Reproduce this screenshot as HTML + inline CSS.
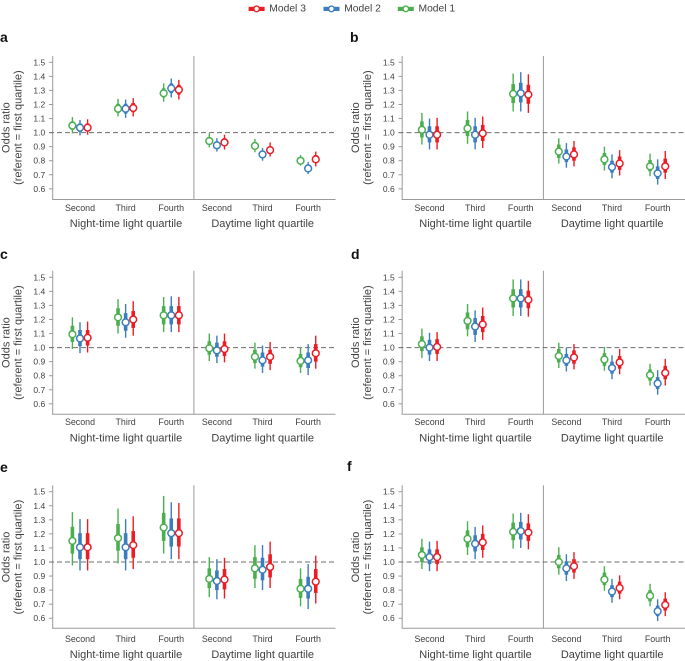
<!DOCTYPE html>
<html>
<head>
<meta charset="utf-8">
<style>
html,body{margin:0;padding:0;background:#fff;width:685px;height:661px;overflow:hidden}
svg{display:block}
text{font-family:"Liberation Sans",sans-serif;fill:#404040}
</style>
</head>
<body>
<svg id="chart" width="685" height="661" viewBox="0 0 685 661" xmlns="http://www.w3.org/2000/svg"></svg>
<script>
const modelNames = ["Model 1", "Model 2", "Model 3"];
const modelColors = ["#4bae4f", "#3b7dbd", "#ec1c24"];
const groupLabels = ["Second", "Third", "Fourth", "Second", "Third", "Fourth"];
const yTicks = [1.5, 1.4, 1.3, 1.2, 1.1, 1.0, 0.9, 0.8, 0.7, 0.6];

const aMean = [[1.05,1.17,1.28,.94,.905,.80],[1.035,1.17,1.315,.91,.845,.745],[1.035,1.175,1.305,.93,.875,.81]];
const aLow = [[.995,1.115,1.22,.895,.86,.765],[.98,1.105,1.25,.865,.80,.705],[.985,1.115,1.235,.88,.83,.76]];
const aHigh = [[1.11,1.24,1.35,.995,.955,.84],[1.09,1.235,1.385,.96,.89,.79],[1.095,1.245,1.375,.985,.93,.865]];
const aBandLow = [[1.02,1.14,1.25,.915,.88,.78],[1.005,1.135,1.28,.885,.82,.725],[1.01,1.145,1.27,.905,.85,.785]];
const aBandHigh = [[1.08,1.205,1.315,.965,.93,.82],[1.065,1.205,1.35,.935,.87,.77],[1.065,1.21,1.34,.96,.90,.84]];

const bMean = [[1.02,1.03,1.275,.865,.81,.76],[.985,.985,1.28,.83,.755,.71],[.985,.995,1.27,.845,.78,.76]];
const bLow = [[.915,.92,1.15,.78,.73,.69],[.88,.88,1.15,.75,.675,.63],[.88,.89,1.14,.76,.695,.67]];
const bHigh = [[1.14,1.15,1.42,.96,.90,.85],[1.10,1.105,1.43,.925,.845,.81],[1.105,1.115,1.415,.94,.875,.87]];
const bBandLow = [[.965,.975,1.21,.82,.77,.725],[.93,.93,1.215,.79,.715,.67],[.93,.94,1.205,.80,.735,.715]];
const bBandHigh = [[1.08,1.09,1.345,.915,.855,.805],[1.045,1.045,1.355,.88,.80,.76],[1.045,1.055,1.34,.895,.83,.815]];

const cMean = [[1.095,1.215,1.23,.995,.935,.905],[1.065,1.18,1.23,.98,.91,.91],[1.07,1.20,1.23,.99,.935,.96]];
const cLow = [[.99,1.10,1.11,.905,.85,.82],[.96,1.07,1.11,.89,.82,.805],[.965,1.085,1.11,.895,.84,.85]];
const cHigh = [[1.215,1.345,1.36,1.10,1.035,1.0],[1.18,1.31,1.365,1.085,1.015,1.025],[1.185,1.33,1.36,1.10,1.04,1.085]];
const cBandLow = [[1.04,1.155,1.165,.95,.89,.86],[1.01,1.12,1.165,.935,.865,.855],[1.015,1.14,1.165,.94,.885,.90]];
const cBandHigh = [[1.155,1.28,1.295,1.045,.985,.955],[1.125,1.245,1.295,1.035,.965,.965],[1.125,1.26,1.295,1.045,.985,1.025]];

const dMean = [[1.025,1.19,1.35,.94,.915,.805],[1.0,1.15,1.35,.91,.855,.745],[1.005,1.165,1.34,.93,.895,.82]];
const dLow = [[.925,1.08,1.225,.855,.835,.73],[.905,1.04,1.225,.83,.775,.665],[.905,1.055,1.22,.845,.81,.73]];
const dHigh = [[1.135,1.31,1.485,1.035,1.005,.885],[1.105,1.265,1.485,1.0,.945,.84],[1.11,1.285,1.475,1.025,.99,.92]];
const dBandLow = [[.975,1.13,1.285,.895,.87,.765],[.95,1.09,1.285,.87,.815,.705],[.955,1.11,1.28,.885,.85,.775]];
const dBandHigh = [[1.08,1.25,1.415,.99,.96,.845],[1.055,1.21,1.415,.955,.90,.79],[1.06,1.225,1.405,.98,.94,.87]];

const eMean = [[1.15,1.17,1.245,.88,.955,.81],[1.105,1.105,1.205,.865,.945,.81],[1.105,1.12,1.205,.875,.965,.86]];
const eLow = [[.975,.99,1.06,.75,.815,.685],[.94,.94,1.02,.735,.80,.665],[.94,.95,1.02,.74,.815,.705]];
const eHigh = [[1.355,1.38,1.47,1.035,1.12,.955],[1.305,1.305,1.425,1.02,1.12,.985],[1.305,1.325,1.42,1.03,1.145,1.045]];
const eBandLow = [[1.06,1.08,1.15,.815,.88,.745],[1.02,1.02,1.11,.80,.87,.74],[1.02,1.03,1.11,.805,.89,.78]];
const eBandHigh = [[1.25,1.27,1.35,.955,1.035,.88],[1.205,1.205,1.31,.94,1.03,.895],[1.205,1.22,1.31,.95,1.055,.95]];

const fMean = [[1.05,1.165,1.215,1.0,.875,.76],[1.035,1.13,1.22,.955,.79,.65],[1.035,1.14,1.21,.97,.815,.695]];
const fLow = [[.95,1.05,1.095,.91,.795,.685],[.935,1.02,1.10,.865,.71,.58],[.935,1.03,1.09,.88,.735,.615]];
const fHigh = [[1.165,1.29,1.345,1.105,.97,.845],[1.145,1.25,1.35,1.055,.88,.735],[1.15,1.26,1.34,1.07,.905,.785]];
const fBandLow = [[1.0,1.105,1.155,.955,.835,.72],[.985,1.075,1.16,.91,.75,.615],[.985,1.085,1.15,.925,.775,.655]];
const fBandHigh = [[1.105,1.225,1.28,1.05,.925,.80],[1.09,1.19,1.285,1.005,.835,.69],[1.09,1.2,1.275,1.02,.86,.74]];

const panelLetters = ["a", "b", "c", "d", "e", "f"];
const panelMeans = [aMean, bMean, cMean, dMean, eMean, fMean];
const panelLows = [aLow, bLow, cLow, dLow, eLow, fLow];
const panelHighs = [aHigh, bHigh, cHigh, dHigh, eHigh, fHigh];
const panelBandLows = [aBandLow, bBandLow, cBandLow, dBandLow, eBandLow, fBandLow];
const panelBandHighs = [aBandHigh, bBandHigh, cBandHigh, dBandHigh, eBandHigh, fBandHigh];

const svg = document.getElementById("chart");
const NS = "http://www.w3.org/2000/svg";

function make(parent, tag, attrs, content) {
  const el = document.createElementNS(NS, tag);
  for (const k in attrs) el.setAttribute(k, attrs[k]);
  if (content !== undefined) el.textContent = content;
  parent.appendChild(el);
  return el;
}

function yScale(layout, v) { return layout.y1 + (1.0 - v) * 140.6; }
function xScale(layout, group, model) { return layout.x0 + 27.3 + group * 45.63 + (model - 1) * 7.6; }

const layouts = [
  {x0:52.7, y1:132.6, top:56, bottom:199.5, groupY:207.8, titleY:224, letterX:0, letterY:37},
  {x0:402.2, y1:132.6, top:56, bottom:199.5, groupY:207.8, titleY:224, letterX:350, letterY:37},
  {x0:52.7, y1:347.6, top:270.7, bottom:414.3, groupY:422.2, titleY:438.4, letterX:0, letterY:254},
  {x0:402.2, y1:347.6, top:270.7, bottom:414.3, groupY:422.2, titleY:438.4, letterX:351, letterY:254},
  {x0:52.7, y1:562, top:485.3, bottom:628.3, groupY:638.8, titleY:654.8, letterX:0, letterY:467},
  {x0:402.2, y1:562, top:485.3, bottom:628.3, groupY:638.8, titleY:654.8, letterX:347, letterY:466}
];

const AXIS = "#9a9a9a";

layouts.forEach(function (L, p) {
  const g = make(svg, "g", {});
  
  

  const letter = make(g, "text", {x:L.letterX, y:L.letterY, "dominant-baseline":"central", "font-size":14, "font-weight":"bold", style:"fill:#111"}, panelLetters[p]);
  
  

  const right = L.x0 + 282.8;
  const divX = L.x0 + 141.2;

  const yAxis = make(g, "line", {x1:L.x0, x2:L.x0, y1:L.top, y2:L.bottom, stroke:AXIS, "stroke-width":1});
  
  

  const xAxis = make(g, "line", {x1:L.x0 - 0.5, x2:right, y1:L.bottom, y2:L.bottom, stroke:AXIS, "stroke-width":1});
  
  

  const divider = make(g, "line", {x1:divX, x2:divX, y1:L.top, y2:L.bottom, stroke:AXIS, "stroke-width":1});
  
  

  yTicks.forEach(function (t) {
    const y = yScale(L, t);
    const tick = make(g, "line", {x1:L.x0 - 3.7, x2:L.x0, y1:y, y2:y, stroke:AXIS, "stroke-width":1});
    
    
    const lab = make(g, "text", {x:L.x0 - 7.5, y:y, "text-anchor":"end", "dominant-baseline":"central", "font-size":8.5}, t.toFixed(1));
    
    
  });

  const refLine = make(g, "line", {x1:L.x0 - 3.7, x2:right, y1:yScale(L, 1.0), y2:yScale(L, 1.0), stroke:"#6e6e6e", "stroke-width":1, "stroke-dasharray":"5 3"});
  
  

  const yTitle = make(g, "text", {"text-anchor":"middle", "font-size":11, transform:"translate(" + (L.x0 - 46) + "," + (yScale(L, 1.0) - 5) + ") rotate(-90)", "dominant-baseline":"central"}, "Odds ratio");
  
  
  const ySub = make(g, "text", {"text-anchor":"middle", "font-size":11, transform:"translate(" + (L.x0 - 34) + "," + (yScale(L, 1.0) - 5) + ") rotate(-90)", "dominant-baseline":"central"}, "(referent = first quartile)");
  
  

  groupLabels.forEach(function (label, i) {
    const t = make(g, "text", {x:xScale(L, i, 1), y:L.groupY, "text-anchor":"middle", "dominant-baseline":"central", "font-size":8.9}, label);
    
    
  });

  const night = make(g, "text", {x:L.x0 + 73.3, y:L.titleY, "text-anchor":"middle", "dominant-baseline":"central", "font-size":11}, "Night-time light quartile");
  
  
  const day = make(g, "text", {x:L.x0 + 210, y:L.titleY, "text-anchor":"middle", "dominant-baseline":"central", "font-size":11}, "Daytime light quartile");
  
  

  modelNames.forEach(function (name, m) {
    const color = modelColors[m];
    groupLabels.forEach(function (label, i) {
      const x = xScale(L, i, m);
      const ci = make(g, "line", {x1:x, x2:x, y1:yScale(L, panelLows[p][m][i]), y2:yScale(L, panelHighs[p][m][i]), stroke:color, "stroke-width":1.4});
      
      
      const band = make(g, "line", {x1:x, x2:x, y1:yScale(L, panelBandLows[p][m][i]), y2:yScale(L, panelBandHighs[p][m][i]), stroke:color, "stroke-width":3.6});
      
      
      const pt = make(g, "circle", {cx:x, cy:yScale(L, panelMeans[p][m][i]), r:3.4, fill:"#fff", stroke:color, "stroke-width":1.5});
      
      
    });
  });
});

const legendOrder = [2, 1, 0];
const legendX = [248.6, 323.5, 397.8];
const legend = make(svg, "g", {});


legendOrder.forEach(function (m, i) {
  const x = legendX[i];
  const entry = make(legend, "g", {});
  
  
  make(entry, "rect", {x:x, y:6.8, width:16, height:4.2, fill:modelColors[m]});
  make(entry, "circle", {cx:x + 8, cy:8.9, r:2.8, fill:"#fff", stroke:modelColors[m], "stroke-width":1.4});
  make(entry, "text", {x:x + 20.7, y:9, "dominant-baseline":"central", "font-size":10.3}, modelNames[m]);
});
</script>
</body>
</html>
